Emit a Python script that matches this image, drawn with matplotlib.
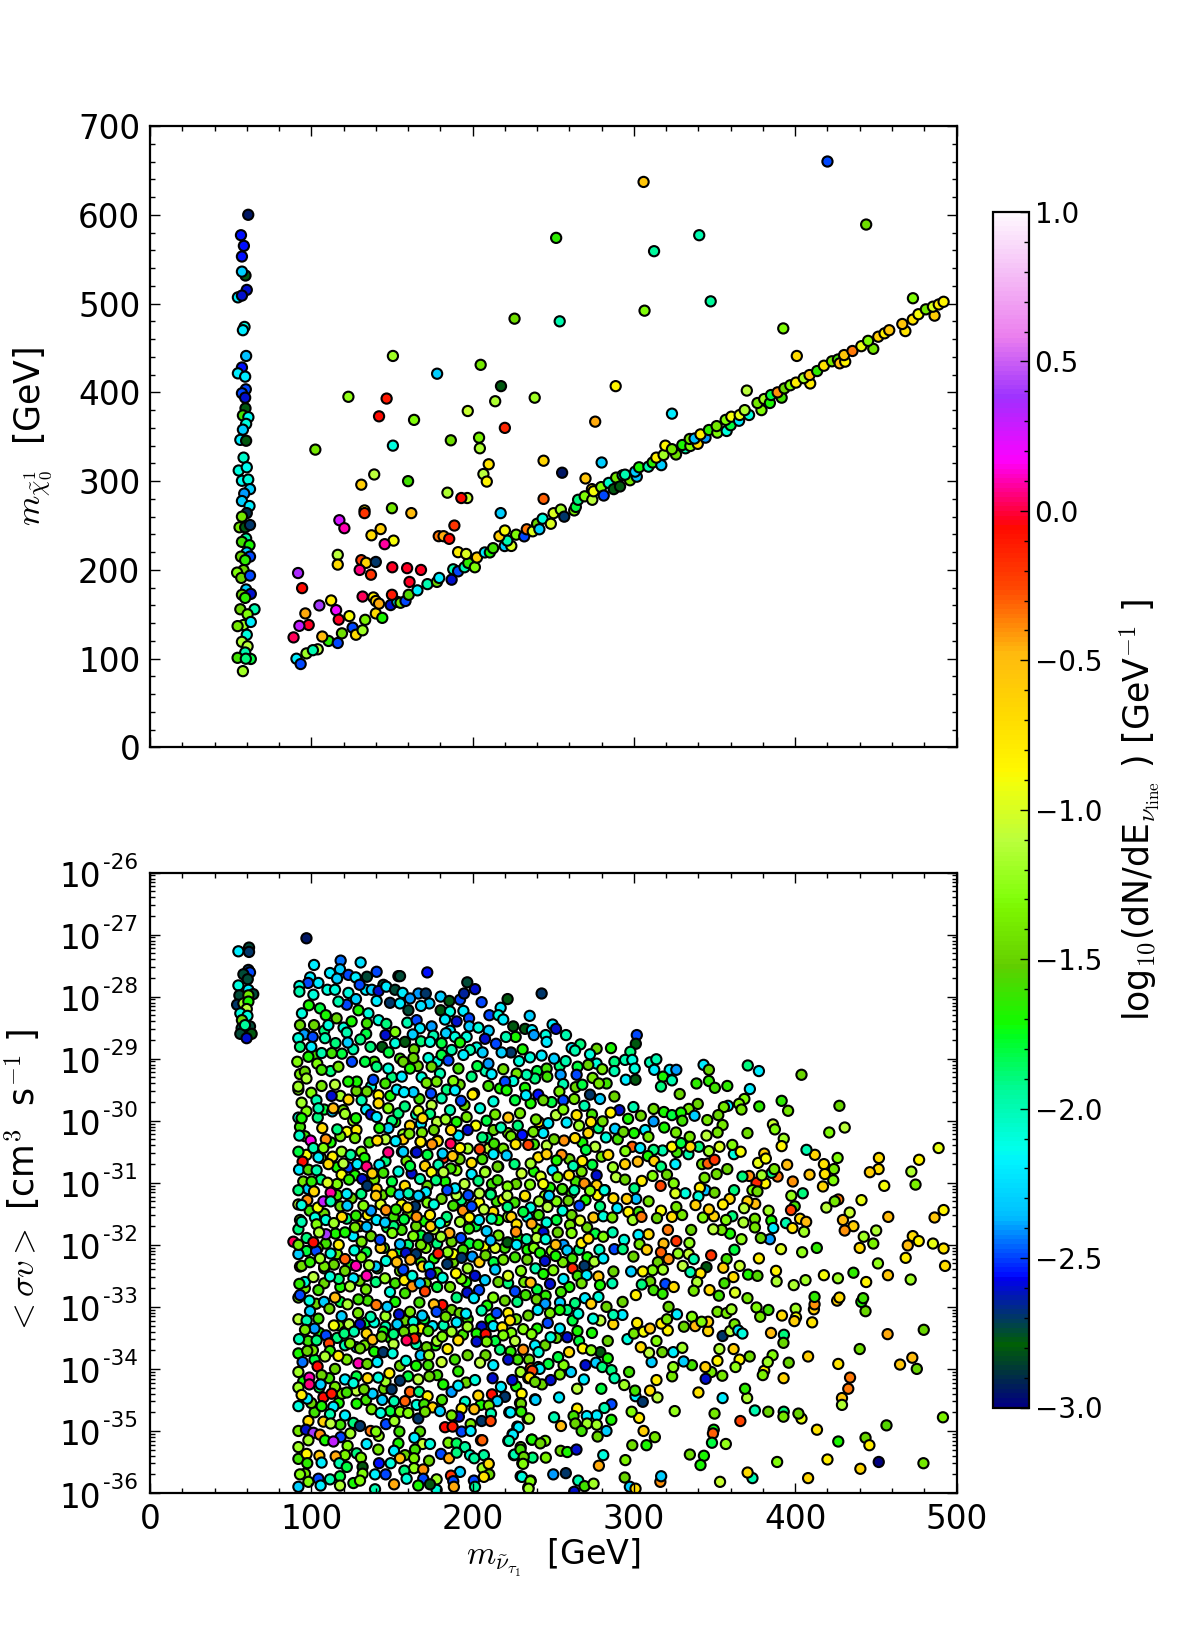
import numpy as np
import matplotlib
matplotlib.use("Agg")
import matplotlib.pyplot as plt
from matplotlib.ticker import MultipleLocator, NullFormatter, LogLocator

plt.rcParams["mathtext.fontset"] = "cm"

# top panel: (sneutrino mass, neutralino mass, log10 flux)
band = [(60.9,600,-2.95),(56.4,577,-2.55),(58.2,565,-2.55),(57,553,-2.55),(59.2,531.6,-2.8),(57,536,-2.3),(60,515.4,-2.6),(54.5,507,-2.2),(57,509,-2.6),(58.6,473.7,-2.1),(57.6,470,-2.2),
 (59.6,441,-2.35),(57,428,-2.55),(54.5,421.4,-2.2),(59,417.7,-2.2),(59.4,403.4,-2.5),(57,399,-2.5),(59,394,-2.6),(59.2,382,-2.8),(57.6,374,-1.6),(61,372,-2.15),(59.6,364.5,-2.1),(57.6,358,-2.3),
 (56,346.5,-2.2),(59.6,345.5,-2.8),(58,326.5,-2.05),(55,312,-2.1),(60,315.6,-2.15),(57,300.4,-2.15),(60.9,301.8,-2.1),(62,291,-2.3),(58.4,286,-2.4),(57,277.6,-2.3),(61.7,272,-2.2),(60,264,-2.9),
 (57,260,-1.4),(55.5,248,-1.4),(59,248,-2.8),(62,250.6,-2.7),(59.6,235.4,-1.95),(57,231.6,-1.6),(61.7,227.8,-1.7),(60,219.7,-2.3),(56.4,215,-1.5),(62,215,-2.5),(59,211,-1.65),(58,199.8,-1.5),
 (54,197,-1.3),(56.6,191,-1.5),(62,193.6,-2.5),(59.6,178,-2.3),(57,172,-1.5),(62.5,173,-2.6),(59,168.5,-1.65),(56,155.7,-1.5),(64.8,155.7,-2),(60.5,150,-1.3),(58,138,-1.2),(54.3,136.7,-1.4),
 (62.5,141.4,-2.2),(60,127,-2.1),(57,119,-1.15),(60.5,114,-1.1),(59,107,-2),(54.3,101,-1.6),(62.5,99.7,-1.8),(59.4,100,-1.9),(57.6,86,-1.2)]

diagonal = [(90.8,100,-2.2),(93.4,94,-2.5),(97,106,-1.2),(104,110.6,-1.1),(101,109.6,-2),(110.7,120,-1.65),(116.4,117.7,-2.5),(119,128.6,-1.45),(125.6,135,-2.5),(127.7,127,-0.7),(131.8,132,-1.2),
 (133.4,143.8,-1.35),(140,151,-0.7),(144,146,-1.7),(149.2,160.4,-2.6),(153.3,164,-2.2),(155.3,163,-1.4),(158.4,165,-2.5),(160.4,172,-1.55),(165.8,177,-2.2),(172,184,-2),(177.9,186.5,-1.5),(179.3,191,-2.2),
 (187,189,-2.6),(188,200.7,-2),(191,198.4,-2.5),(195,203,-2),(197.3,207.9,-1.65),(201.4,203,-1.3),(202.7,214,-0.6),(207.6,219.7,-2.2),(210.7,219.7,-1.7),(212.7,224.5,-1.6),(219.9,226.9,-2.3),(224,227,-1),
 (221.5,233,-2),(227,239.7,-1.3),(232,237.8,-2.5),(233.6,245.8,-0.35),(237.3,243.5,-1),(240,252,-1.5),(241.4,245.8,-2.3),(243.4,257.7,-2.1),(248.5,252,-1),(250.2,263.9,-1),(254.7,268,-1.2),(256.8,260,-2.7),
 (263,267,-1.4),(264,271,-1.8),(265.4,279,-1.9),(269.5,282.9,-1.3),(274.2,279,-1.1),(274,291,-0.7),(275,288.6,-0.9),(279.7,293.3,-1.3),(281.3,283.8,-2.5),(284.4,298,-2.05),(287.5,291,-2.8),(289,304,-1.4),
 (291.4,294,-2.8),(293,306.6,-2),(297.6,301,-1.4),(294.5,307.3,-2),(301.8,305,-2.35),(300.8,310.7,-2.3),(303.2,315.6,-1.7),(309,316.3,-2),(311.6,321,-1.65),(317,318,-2.3),(313.9,326.5,-0.8),(318.4,329.5,-1.2),
 (319.5,340,-0.85),(326.1,330,-1.45),(323.6,336,-1.4),(332,337,-2),(330,340.7,-1.7),(335,339.6,-1.3),(339.6,342,-0.7),(334.6,347.5,-1.4),(344.4,349,-2.4),(337.6,348,-2.35),(341.3,352.7,-0.8),(346.5,357.6,-1.65),
 (351.7,354.6,-1.3),(351.3,362,-1.4),(357.5,356.5,-2.1),(360,363,-1.8),(356.9,369,-1.3),(360.4,372.6,-0.9),(365.2,368,-2.2),(365.6,374.5,-0.95),(371.4,374.5,-2.1),(368.7,380,-1.15),(379.1,380,-1.3),(376.6,388,-1.4),
 (380.8,392.5,-1.2),(384.3,388,-1.7),(385,397,-1.8),(391.6,394,-1.6),(389.1,400,-0.4),(393.3,404.5,-1.5),(397,408,-1.3),(400.5,411,-0.8),(409.3,410,-0.8),(405.3,416,-1.2),(408.9,419.5,-0.55),(413.6,424,-1.65),
 (417.8,430,-0.75),(422.8,435,-1.4),(426.5,437,-1.6),(427.6,432.7,-0.5),(431,434.6,-0.85),(430.3,442,-0.55),(435.5,446.6,-0.35),(441,452,-0.95),(448.4,449,-1.4),(445.2,458,-1.3),(451.5,462.7,-0.6),(455.4,466.5,-0.8),
 (458.3,470,-0.55),(468.3,469,-0.75),(466.4,477,-0.55),(472.9,482,-0.75),(476.4,488,-0.9),(481,493.5,-1.4),(486.4,486.4,-0.6),(485.4,496.5,-1),(489,499,-0.8),(492,502,-0.85)]

scattered = [(150.6,441,-1.2),(251.8,574,-1.65),(226,483,-1.45),(254,480,-2),(205,431,-1.4),(178,421,-2.3),(217.6,407,-2.8),(288.7,407,-0.85),(214,390,-1.15),(238.5,394,-1.2),(123,395,-1.25),(146.7,393,-0.1),
 (142,373,-0.05),(163.7,369,-1.3),(197,379,-1.05),(220,360,-0.15),(276,367,-0.45),(186.5,346,-1.45),(204,349,-1.35),(204.5,337,-1.15),(150.6,340,-2.1),(102.5,335.5,-1.4),(210,319,-0.75),(244,323,-0.65),
 (280,321,-2.3),(255.5,309.5,-2.95),(139,307.5,-1.1),(160,300,-1.6),(131,296,-0.6),(206.7,308,-1.1),(208.8,299.5,-0.85),(270,303,-0.55),(184.4,287,-1.15),(196.7,281,-1.05),(193,281,-0.05),(244,280,-0.3),
 (133,267,-0.8),(133,264,-0.2),(150,269.5,-1.4),(162,264,-0.5),(217.4,264,-2.3),(117.4,256,0.25),(120.5,247,0.1),(188.7,250,-0.2),(143,246,-0.6),(137.3,239,-0.7),(151,233,-0.9),(145.5,229,0.08),(179,238,-0.35),
 (182,238,-0.45),(185.5,235,-0.05),(116.4,217,-1.1),(116.4,206,-0.7),(131,211,-0.25),(134,208,-0.65),(140,209,-2.7),(130,200,0.05),(137,194.6,-0.2),(150.2,203,-0.02),(159.4,202,-0.03),(168,200,-0.03),
 (160.9,186.5,-0.03),(191,220,-0.8),(196,218,-1),(91.8,196.5,0.35),(94.3,179.5,-0.05),(131.8,170,0.03),(112.3,165.6,-0.8),(105,160,0.4),(115.4,154.7,0.2),(96.3,151,-0.45),(123.6,148,-0.9),(117,144,-0.02),
 (98.4,138,-0.03),(92.6,137,0.3),(89,124,0.02),(106.8,125,-0.5),(138.5,169,-0.8),(140,165,-0.6),(142,162,-0.45),(150,172,-0.1),(216.6,238,-0.6),(220,244.4,-0.9),(306,637,-0.55),(420,660,-2.5),(444,589,-1.45),
 (312.5,559,-1.95),(340.5,577,-2),(306.6,492,-1.3),(347.6,502.5,-1.95),(392.6,472,-1.3),(401,441,-0.7),(323.6,376,-2.2),(370,402,-1.1),(473,506,-1.3)]

# bottom panel: (sneutrino mass, log10 <sigma v>, log10 flux)
sv_fill = [(96,-28.6,-2.3),(108,-28.55,-1.9),(120,-28.5,-2.1),(134,-28.6,-1.8),(152,-28.75,-2.1),(168,-28.72,-1.9),(186,-28.55,-2.2),(210,-28.55,-2.3),
 (93,-29.25,-1.4),(103,-28.95,-1.6),(112,-29.2,-1.9),(126,-28.85,-2),(139,-29.05,-1.6),(150,-29.3,-1.9),(166,-29.12,-1.5),(178,-29.05,-2.1),(192,-29.42,-1.5),(208,-29.2,-2),(217,-29.48,-1.7),(240,-29.2,-1.8),(254,-29.12,-1.9),
 (100,-29.55,-1.3),(118,-29.6,-1.2),(128,-29.52,-1.5),(137,-29.45,-2.1),(149,-29.6,-1.7),(167,-29.65,-1.6),(184,-29.5,-1.9),(195,-29.75,-1.5),(214,-29.9,-1.4),(236,-29.72,-1.7),(249,-29.7,-1.8),(263,-29.65,-1.4),(274,-29.9,-1.6),
 (97,-29.85,-1.3),(108,-29.82,-1.8),(126,-30.0,-1.2),(134,-29.82,-2.2),(152,-30.02,-1.7),(165,-29.9,-2),(178,-30.02,-1.1),(190,-30.02,-1.7),(202,-30.08,-0.9),(213,-30.15,-1.5),(228,-30.08,-1.9),(241,-30.02,-0.8),(266,-30.08,-1.2),(278,-30.12,-1.9),
 (96,-30.25,-1.6),(112,-30.35,-1.7),(122,-30.18,-0.9),(136,-30.35,-1.6),(157,-30.22,-1.2),(172,-30.55,-1.8),(197,-30.45,-1.2),(209,-30.28,-1.9),(219,-30.45,-1.4),(238,-30.38,-1.6),(246,-30.4,-1.1),(268,-30.35,-1.7),(276,-30.42,-1.1),(290,-30.3,-1.6),
 (106,-30.6,-1.2),(116,-30.75,-1.7),(131,-30.5,-1.3),(146,-30.65,-1.9),(159,-30.65,-1.4),(192,-30.62,-1.5),(206,-30.62,-1.6),(226,-30.7,-1.9),(238,-30.82,-1.7),(260,-30.62,-1.5),(268,-30.65,-0.8),(287,-30.75,-1.2),
 (95,-30.98,-1.4),(106,-30.95,-1.9),(116,-31.02,-1.3),(127,-30.88,-1.7),(139,-30.95,-1.4),(150,-30.98,-1.8),(158,-31.05,-0.7),(172,-31.05,-1.5),(183,-30.98,-1.7),(195,-31.02,-1.1),(212,-31.02,-1.6),(227,-31.02,-1.5),(248,-31.08,-1.7),(264,-30.98,-1.6),
 (99,-31.45,-1.6),(118,-31.38,-1.5),(131,-31.18,-1.9),(144,-31.2,-1.5),(172,-31.32,-1.3),(193,-31.28,-1.9),(204,-31.32,-0.9),(226,-31.32,-1.6),(241,-31.52,-1.6),(252,-31.3,-1.3),(270,-31.28,-1.7),
 (108,-31.5,-1.5),(122,-31.58,-1.9),(135,-31.52,-0.8),(151,-31.55,-1.6),(160,-31.5,-1.4),(170,-31.62,-1.7),(183,-31.62,-1.3),(202,-31.7,-1.8),(216,-31.6,-1.7),(222,-31.55,-1.2),(234,-31.55,-2.1),(252,-31.6,-1.8),(271,-31.72,-1.5),
 (109,-31.98,-1.6),(115,-31.82,-1.7),(126,-31.86,-2.2),(137,-31.86,-1.5),(147,-31.72,-1.8),(156,-31.76,-1.6),(168,-31.85,-1.8),(176,-31.75,-1.1),(187,-31.95,-1.5),(198,-31.98,-1.8),(216,-31.85,-1.4),(228,-31.88,-1.7),(240,-31.75,-1.3),(276,-31.82,-1.8),
 (97,-32.1,-1.8),(104,-32.05,-1.5),(116,-32.15,-1.4),(134,-32.12,-1.8),(145,-32.05,-1.6),(160,-32.0,-1.9),(171,-32.05,-1.3),(178,-31.98,-1.9),(194,-32.08,-1.6),(207,-32.03,-0.9),(220,-32.05,-1.6),(234,-32.08,-1.7),(249,-32.1,-1.2),(266,-32.08,-1.9),
 (108,-32.38,-1.9),(114,-32.32,-1.5),(124,-32.32,-1.7),(141,-32.38,-1.6),(155,-32.42,-1.5),(168,-32.28,-1.6),(176,-32.22,-1.7),(188,-32.28,-1.5),(197,-32.38,-1.2),(213,-32.28,-1.8),(230,-32.42,-1.3),(239,-32.38,-2),(256,-32.28,-1.4),(272,-32.32,-1.6),
 (96,-32.7,-1.4),(108,-32.62,-1.5),(118,-32.68,-1.7),(130,-32.58,-1.5),(140,-32.6,-1.9),(152,-32.62,-1.6),(171,-32.62,-1.5),(178,-32.68,-1.8),(186,-32.68,-1.4),(196,-32.6,-1.7),(216,-32.6,-1.5),(222,-32.62,-1.9),(232,-32.6,-1.4),(260,-32.68,-1.7),
 (103,-32.95,-1.5),(118,-32.92,-1.8),(135,-32.9,-1.6),(152,-32.92,-1.7),(167,-32.93,-1.6),(187,-33.05,-1.5),(209,-32.98,-1.7),(220,-32.9,-1.5),(240,-32.72,-1.8),(248,-33.1,-1.4),(262,-33.22,-1.8),(283,-33.0,-1.5),
 (105,-33.42,-1.7),(117,-33.3,-1.4),(134,-33.25,-1.8),(146,-33.32,-2),(158,-33.22,-1.5),(170,-33.2,-1.8),(197,-33.2,-1.6),(211,-33.2,-1.7),(227,-33.2,-1.4),(240,-33.35,-1.7),(252,-33.5,-1.5),(274,-33.42,-1.7),
 (98,-33.55,-1.6),(116,-33.5,-1.9),(133,-33.62,-1.4),(149,-33.5,-1.7),(165,-33.42,-1.6),(177,-33.62,-1.7),(194,-33.45,-1.6),(214,-33.55,-1.8),(224,-33.42,-1.3),(245,-33.62,-1.5),(266,-33.55,-1.8),
 (102,-33.85,-1.8),(122,-33.85,-1.4),(139,-33.72,-1.7),(155,-33.95,-1.5),(165,-33.95,-1.7),(189,-33.85,-1.6),(208,-33.78,-1.5),(228,-33.85,-1.6),(247,-33.92,-1.8),
 (95,-34.2,-1.7),(111,-34.15,-1.6),(128,-34.12,-1.8),(145,-34.32,-1.5),(160,-34.12,-1.8),(178,-34.1,-1.6),(196,-34.22,-1.5),(227,-34.28,-1.7),(243,-34.25,-1.5),
 (102,-34.7,-1.6),(117,-34.55,-1.7),(134,-34.5,-1.6),(149,-34.68,-1.8),(181,-34.5,-1.6),(205,-34.58,-1.7)]

sv_under = [(93,-30.1,-1.6),(97,-30.55,-0.9),(104,-29.95,-1.9),(109,-30.3,-0.4),(113,-29.85,-2.3),(118,-30.25,-1.4),(123,-30.75,-2.5),(128,-30.15,-0.8),(133,-30.6,-1.7),(137,-29.9,-2.6),(146,-30.3,-1.1),(150,-30.0,-1.9),
 (157,-30.3,-0.6),(168,-30.05,-2.2),(176,-30.15,-1.5),(182,-30.6,-0.2),(190,-30.8,-1.3),(197,-30.15,-2.6),(210,-30.45,-1.1),(222,-30.2,-1.5),(93,-31.6,-1.4),(98,-31.1,-2.3),(104,-31.4,-0.9),(109,-31.6,-2.1),(116,-31.2,-1.6),
 (119,-31.55,-0.7),(125,-31.25,-1.5),(130,-31.7,-0.5),(137,-31.45,-2.4),(143,-31.35,-1.0),(151,-31.7,-1.9),(156,-31.35,-0.9),(165,-31.7,-1.5),(171,-31.15,-2.2),(174,-31.7,-0.6),(184,-31.55,-1.9),(190,-31.2,-1.1),(194,-31.45,-0.4),
 (204,-31.6,-2.2),(215,-31.3,-1.6),(224,-31.55,-0.6),(236,-31.4,-2.1),(93,-32.35,-0.7),(96,-32.6,-2.1),(103,-32.1,-2.5),(108,-32.35,-1.4),(117,-32.0,-0.8),(117,-32.55,-1.9),(131,-32.2,-1.3),(140,-32.35,-2.3),(143,-32.05,-0.6),
 (155,-32.1,-1.8),(157,-32.4,-2.5),(168,-32.0,-1.4),(169,-32.35,-0.7),(178,-32.45,-1.6),(188,-32.15,-0.9),(193,-32.55,-1.3),(214,-32.05,-1.0),(214,-32.4,-2.3),(222,-32.5,-1.0),(238,-32.05,-1.3),(92,-33.2,-1.1),(102,-33.35,-2.4),
 (114,-33.3,-0.9),(129,-33.1,-1.4),(139,-33.25,-2.1),(146,-33.15,-1.2),(168,-33.35,-0.8),(182,-33.3,-2.0),(192,-33.1,-1.5),(101,-33.7,-1.4),(121,-33.4,-0.4),(128,-33.65,-2.3),(151,-33.6,-1.1),(165,-33.6,-2.0),(178,-33.55,-1.2),
 (105,-34.3,-1.8),(119,-34.4,-1.4),(128,-34.35,-1.1),(92,-34.6,-2.1),(100,-34.55,-1.5),(118,-34.9,-1.6),(138,-34.4,-2.3),(146,-34.2,-1.2),(92,-35.0,-1.4),(92,-29.5,-1.3),(92,-29.95,-2.1),(92,-30.5,-1.8),(92,-31.35,-1.1),(92,-31.75,-1.9),
 (92,-32.15,-2.3),(92,-32.85,-1.5),(92,-33.75,-1.7),(92,-34.3,-1.2),(92,-35.45,-1.6),(92,-35.9,-2.3)]

sv_cluster = [(54.8,-27.27,-2.2),(61.4,-27.21,-2.75),(61.4,-27.28,-2.7),(61,-27.57,-2.7),(62,-27.61,-2.5),(57.9,-27.64,-2.75),(60.6,-27.72,-2.75),(54.8,-27.82,-2.1),(61,-27.89,-2.2),(55.4,-27.98,-2.75),(64,-27.96,-2.75),(61,-27.98,-1.4),
 (54,-28.13,-2.7),(57.9,-28.11,-1.2),(61,-28.08,-1.7),(60,-28.2,-1.1),(56,-28.27,-2.1),(60.4,-28.31,-2.1),(57,-28.38,-1.5),(56.8,-28.51,-2.75),(62,-28.48,-2.75),(59.5,-28.62,-2.75),(56,-28.6,-2.75),(63,-28.6,-2.8),(59.9,-28.67,-2.6),(58.9,-28.46,-1.95)]

sv_upper_left = [(97,-27.06,-2.95),(101.7,-27.49,-2.2),(118.2,-27.42,-2.45),(130.6,-27.45,-2.25),(117.8,-27.56,-2.3),(140.5,-27.6,-2.5),(154,-27.67,-2.8),(111.6,-27.62,-2.2),(99.3,-27.69,-2.2),(123,-27.65,-2.5),(127.5,-27.69,-2.2),
 (134.5,-27.68,-2.75),(116,-27.71,-2.3),(98,-27.78,-2.5),(104.4,-27.78,-2.2),(92.6,-27.83,-2.1),(92.6,-27.92,-2),(110,-27.89,-2.1),(114.7,-27.89,-2.1),(133.8,-27.89,-2.2),(130,-27.81,-2.5),(144.7,-27.81,-2.75),(101.3,-27.97,-2.1),
 (123,-27.94,-2.1),(137.5,-27.89,-2.3),(141.7,-27.91,-2.6),(146.5,-27.84,-2.2),(151.9,-27.89,-2.75),(156.6,-27.94,-2.2),(127.7,-28.04,-2.3),(122,-28.13,-2.5),(116.8,-28.08,-2),(140.5,-28.07,-2.2),(148.8,-28.1,-2.7),(155,-28.11,-2.2),
 (98.5,-28.14,-1.7),(105.4,-28.19,-1.8),(94.2,-28.27,-2.1),(109,-28.3,-1.7),(129.2,-28.22,-1.7),(135.4,-28.27,-2.1),(141.7,-28.38,-2.1),(115.7,-28.35,-1.5),(93,-28.46,-1.5),(101.7,-28.46,-1.5),(110.6,-28.46,-2.1),(125,-28.4,-1.7),
 (134.5,-28.43,-1.6),(146.5,-28.44,-1.9),(95.5,-28.61,-2.4),(100.9,-28.65,-2.5),(108.5,-28.67,-2),(122,-28.58,-2),(146,-28.62,-2.6),(152,-28.57,-1.3),(130.4,-28.69,-1.9),(91.9,-28.67,-2.1),(115,-28.75,-1.9),(93,-28.81,-1.9),(100,-28.81,-2.2),
 (106.4,-28.91,-2),(122.6,-28.74,-2.3),(136.7,-28.81,-1.9),(143.9,-28.81,-2.8),(148,-28.9,-1.8),(98.2,-28.97,-1.7),(125.2,-29.05,-2.5),(112.7,-28.91,-1.6),(91.3,-29.05,-1.3),(103.7,-29.08,-1.3),(133.3,-29.05,-1.8),(119,-28.92,-1.8),
 (155,-29,-1.6),(140.5,-29.13,-1.9),(147.7,-29.16,-2.1),(96,-29.21,-1.5),(106.4,-29.18,-1.6),(116.8,-29.13,-1.4),(128.2,-29.37,-1.7),(122.9,-29.37,-1.7),(138.4,-29.34,-2.5),(156.1,-29.29,-2.2),(97,-29.32,-1.15),(91.9,-29.45,-1.2),
 (106.4,-29.44,-1.4),(114.7,-29.42,-1.1),(145.9,-29.4,-1.6),(134.5,-29.53,-1.5),(94,-29.71,-1.2),(112.6,-29.6,-2.6),(103.2,-29.67,-2),(123,-29.66,-0.65),(131.2,-29.67,-2),(141.7,-29.59,-0.85),(153,-29.5,-2.2),(119.8,-29.83,-1.5),
 (141.7,-29.72,-0.7),(147.7,-29.8,-1.3),(113.6,-29.8,-0.5),(94,-29.96,-1.7),(140.5,-29.94,-2.2),(127.7,-29.96,-1.7)]

sv_left_mid = [(104.4,-29.8,-2),(120.9,-29.89,-1.2),(154,-29.88,-1.9),(161.2,-30.08,-0.65),(147.8,-30.12,-2.3),(142.2,-30.12,-1.7),(106.8,-30.12,-0.7),(116.1,-30.14,-1.9),(92.6,-30.24,-2.05),(127.1,-30.28,-1.4),(99.6,-30.32,0.15),
 (140.9,-30.32,-0.7),(152.3,-30.33,-2.2),(167.8,-30.34,-0.9),(178.3,-30.32,-0.7),(101.3,-30.44,-2),(107.5,-30.44,-1.3),(118.8,-30.5,-1.2),(147.7,-30.51,0.05),(156.2,-30.5,-2.3),(164.9,-30.51,-2.6),(104.4,-30.59,-2.2),(113.2,-30.58,-0.8),
 (124.4,-30.55,-1.95),(94.6,-30.66,-0.05),(110.6,-30.7,-0.7),(119.9,-30.69,-1.1),(128.5,-30.7,-2.2),(142.2,-30.71,-2.2),(134.3,-30.74,0.05),(92.4,-30.79,-2.2),(98.2,-30.79,-1.55),(103.3,-30.8,-2),(154,-30.82,-2.1),(137.8,-30.85,-0.6),
 (144.6,-30.84,-1.6),(118.8,-30.87,-0.9),(162.2,-30.85,-2.6),(215.9,-30.74,-1.9),(208,-30.82,-1.8),(131.6,-30.94,-2.6),(110.1,-31,-1),(123.4,-30.95,-1.65),(100.2,-30.98,-1.65),(134.7,-31.05,-2.7),(92,-31.12,-1.9),(101.7,-31.14,-0.65),
 (112,-31.16,0.08),(140.5,-31.1,-0.6),(149.4,-31.14,-1.65),(197.3,-31.2,-2.5),(140.1,-31.21,-0.55),(97.5,-31.28,-0.4),(107.5,-31.3,0.3),(112,-31.3,-2),(122,-31.18,-2.2),(154.6,-31.19,-2.3),(161.2,-31.19,-1.9),(167,-31.22,-2),(180.8,-31.26,-1.5),
 (211.2,-31.17,-2.1),(232.5,-31.22,-0.75),(219,-31.27,-0.9),(94,-31.36,-2.1),(122.3,-31.37,-2.3),(132.3,-31.37,-1.3),(164.3,-31.38,-2.7),(176,-31.35,-2.1),(188,-31.37,-1.6),(199.4,-31.38,-2.5),(159.7,-31.4,-0.7),(146.3,-31.44,-0.4),
 (152.5,-31.43,-1.65),(221.7,-31.39,-1.9),(231.4,-31.47,-1.8),(212.8,-31.47,-0.7),(207,-31.43,-1.1),(165.3,-31.55,-0.4),(102.3,-31.56,-2.1),(173.6,-31.52,-0.8),(127.7,-31.53,-1.65),(211.8,-31.58,-2),(198,-31.56,-0.85),(179.8,-31.65,-2.1),
 (140.5,-31.6,-2.2),(145.7,-31.64,-2.3),(157.5,-31.59,-1.8),(94,-31.63,-2),(114,-31.65,-1.2),(192.2,-31.63,-1.2),(227.3,-31.67,-0.75),(134.3,-31.71,-2.35),(127.1,-31.72,-1.4),(103.3,-31.67,-1.3),(197.7,-31.74,-1.65),(208.7,-31.78,-2.3),
 (236.6,-31.66,-0.45),(185.6,-31.81,-0.45),(109.1,-31.83,0.4),(104.8,-31.8,-1.15),(180.4,-31.87,-1.2),(226.9,-31.79,-0.4),(97.1,-31.89,-1.9),(120.9,-31.8,-1.7),(163.2,-31.86,-1.3),(172.5,-31.89,-2.7),(155,-31.99,-2.35),(192.8,-31.89,-2.5),
 (88.9,-31.95,0.03),(101.3,-31.96,-0.05),(92,-32,-1.4),(131.2,-31.95,-1.4),(150.2,-31.81,-1.3),(142.6,-31.92,-2.5),(211.2,-31.93,-2.35),(221.7,-31.96,-2.8),(233.5,-31.91,-2),(203.5,-32,-1.65),(227.3,-32,-2.2),(112,-32.14,-2.1),(120.9,-32.23,-0.3),
 (126.7,-32.09,-2.1),(94,-32.34,-1.45),(99.2,-32.28,-1.65),(105.4,-32.22,-1.2),(135.8,-32.33,-1.2),(150.2,-32.16,-0.7),(158.7,-32.13,-2.6),(164.9,-32.15,-2.7),(153,-32.28,-0.5),(161.4,-32.24,-0.45),(173,-32.35,-2.1),(184.5,-32.12,-1.25),
 (184.3,-32.31,-2.7),(178.7,-32.14,-0.1),(193.2,-32.21,-2.7),(199.8,-32.19,-2.4),(204.2,-32.28,-0.6),(208,-32.17,-1.5),(219,-32.24,-1.4),(226.3,-32.2,-1.6),(233.9,-32.24,-1.5),(127.7,-32.34,0.1),(146.3,-32.26,-2.1),(111.6,-32.51,-2.1),
 (101.3,-32.52,-1.1),(92.6,-32.63,-1.65),(104.4,-32.73,-1.6),(120.9,-32.42,-1.5),(126.1,-32.54,-2.2),(134.3,-32.5,0.1),(145.7,-32.54,-1.25),(157.7,-32.57,-0.8),(162.6,-32.5,-2.1),(162.6,-32.67,-0.4),(167.4,-32.62,-2.35),(174,-32.47,-2.6),
 (181.4,-32.53,-2.1),(189.7,-32.46,-0.85),(201.5,-32.5,-2.6),(207.7,-32.57,-2.3),(236,-32.61,-0.5),(124,-32.67,-1.15),(133.9,-32.72,-1.4),(148.8,-32.76,-2.1),(158.1,-32.78,-1.6),(170.5,-32.75,-0.25),(196.7,-32.77,-2.6),(204,-32.73,-2.5),
 (212.8,-32.85,-1.3),(226.3,-32.75,-2.5),(114.7,-32.85,-0.5),(93,-32.81,-2.5)]

sv_left_low = [(98.8,-32.9,-2.1),(107.9,-32.92,-2.3),(129.2,-32.88,-1.6),(140.3,-32.97,-0.35),(147.1,-33,-2.3),(181.2,-32.97,-0.05),(176,-32.96,-0.5),(190.1,-32.85,-1.9),(200.8,-32.86,-2.2),(232.9,-32.81,-1.6),(227.7,-32.92,-1.9),
 (99.2,-33.07,-2.3),(122.5,-32.96,-1.15),(111.2,-33.03,-1.5),(154.4,-33.12,-2.6),(161.2,-33.08,-1.4),(168.8,-33.14,-2.3),(177.7,-33.08,-2.5),(183.3,-33.16,-1.45),(195.9,-33.11,-2.2),(205.6,-33.06,-2),(214.9,-33.1,-2.5),(222.1,-33.1,-0.8),
 (234.5,-33.14,-1.5),(104.4,-33.19,-1.6),(97.1,-33.22,-2),(118.8,-33.15,-2.3),(136.8,-33.16,-2),(153.3,-33.28,-2.3),(163.2,-33.24,-2.1),(175.2,-33.31,-2.2),(190.1,-33.25,-2.2),(205.6,-33.32,-2.6),(212.8,-33.31,-2.2),(223.2,-33.22,-0.7),
 (123.4,-33.28,-1.1),(130.2,-33.28,-2.6),(196.9,-33.32,-1.2),(218.4,-33.33,-0.75),(96.1,-33.37,-1.4),(134.3,-33.43,-0.65),(163.2,-33.37,-1.3),(109.1,-33.46,-2.5),(120.5,-33.43,-1.9),(126.5,-33.4,-2),(144.6,-33.4,-1.75),(151,-33.44,-1.9),
 (157.5,-33.4,-1.5),(163.9,-33.51,-0.15),(159.1,-33.54,0.03),(172.5,-33.39,-1.6),(181.2,-33.48,-1.3),(187,-33.4,-1.2),(202.5,-33.43,-1.7),(208.1,-33.44,-0.05),(219,-33.46,-1.3),(231.4,-33.36,-1.3),(236.6,-33.44,-1.3),(92.4,-33.52,-2),
 (103.3,-33.54,-1.9),(111,-33.59,-0.25),(120.9,-33.62,-2),(138,-33.53,-0.5),(143.6,-33.48,-1.5),(171.5,-33.65,-1.5),(191.1,-33.54,-0.7),(208.7,-33.56,-1.35),(226.3,-33.55,-1.1),(238.7,-33.62,-2.2),(202.5,-33.56,-2.6),(97.5,-33.71,-1.5),
 (111.6,-33.71,-1.65),(124,-33.59,-1.35),(130.2,-33.67,-1.5),(116.8,-33.79,-0.8),(94.6,-33.89,-2.45),(108.5,-33.8,-1.15),(144.6,-33.73,-2.7),(150.4,-33.75,-2.1),(167.8,-33.78,-2.3),(173,-33.78,-1.2),(184.5,-33.68,-0.8),(196.9,-33.78,-1.5),
 (217,-33.69,-1.9),(231.4,-33.69,-0.4),(223.6,-33.72,-1.65),(235,-33.85,-1.5),(222.1,-33.85,-2.6),(92,-34.05,-1.2),(103.9,-33.96,-0.05),(114.7,-34,-1.5),(129.2,-33.91,0.1),(134.7,-33.92,-1.5),(140.9,-33.89,-2.2),(158.7,-33.87,-2.1),
 (172.5,-33.94,-1.6),(180.8,-33.89,-1.05),(204.6,-33.9,-1.1),(191.1,-34.04,-1.65),(212.8,-33.94,-2.2),(236,-33.99,-0.3),(240.7,-33.97,-2.1),(229.8,-34.05,-1.2),(106.4,-34.1,-1.5),(120.9,-34.17,-2.2),(134.9,-34.15,-0.65),(141.5,-34.14,-2.1),
 (148.4,-34.07,-0.8),(155,-34.19,-2.7),(166.3,-34.17,-1.1),(173.2,-34.12,-1.5),(212.4,-34.15,-2.6),(224.6,-34.18,-2.6),(234.5,-34.15,-0.7),(98.8,-34.14,0.1),(98.8,-34.25,0.05),(105.8,-34.25,-2.3),(114.7,-34.29,-1.4),(126.1,-34.23,-2.1),
 (132.7,-34.33,-1.5),(149.8,-34.33,-2.7),(181.8,-34.25,-1.7),(187,-34.37,-2.4),(191.1,-34.27,-2.2),(201.5,-34.18,-2.1),(217.6,-34.29,-2.2),(107.5,-34.46,-0.05),(122,-34.38,-1.6),(97.5,-34.48,-2.2),(94,-34.42,-0.8),(112.6,-34.4,-0.1),
 (161.2,-34.37,-0.3),(166.8,-34.37,-1.9),(172.1,-34.44,-0.8),(144,-34.5,-2.3),(151.3,-34.52,-2),(158.1,-34.52,-0.3),(203.5,-34.43,-0.65),(212,-34.41,-0.05),(220.1,-34.45,-2.7),(215.3,-34.52,-2.3),(230.4,-34.4,-0.85),(238.7,-34.49,-2.3),
 (195.3,-34.53,-2.05),(106.4,-34.6,-1.7),(113.7,-34.61,-2.2),(128.1,-34.56,-1.7),(137.4,-34.65,-1.4),(143,-34.71,-2.1),(155,-34.69,-1.3),(165.3,-34.58,-2.1),(170,-34.57,-1.6),(175.2,-34.62,-0.65),(179.8,-34.68,-2.3),(201,-34.65,-0.5),
 (210.1,-34.59,-1.4),(229.4,-34.55,-1.5),(193.2,-34.64,-0.8),(111.6,-34.73,-2),(120.9,-34.75,-2.2),(98.2,-34.84,-0.7),(107.5,-34.85,-0.6),(112,-34.88,-1.1),(126.1,-34.87,-1.9),(130.2,-34.92,-2.7),(146.3,-34.89,-2.5),(151.5,-34.84,-1.2),
 (160.1,-34.71,-1.3),(166.3,-34.8,-2.7),(170.5,-34.69,-1.45),(191.5,-34.77,-2.6),(187,-34.75,-1.4),(211.4,-34.72,-2),(205.6,-34.84,-2.7),(211.2,-34.84,-0.25),(222.7,-34.7,-2.2),(229.8,-34.67,-1.6),(234.1,-34.8,-1.3),(96.7,-34.98,-2.6),
 (182.9,-34.94,-0.05),(187.6,-34.93,-0.1),(193.2,-35.01,-2.5),(198.8,-34.89,-1.4),(198.8,-35,-2.2),(227.7,-34.93,-2.2),(136.8,-35,-0.35),(141.8,-35.08,-1.2),(140.1,-35.01,-1.3),(154.6,-35.01,-1.6),(167.4,-35.01,-1.55),(101.3,-35.03,0.4),
 (105.4,-35.06,-0.4),(98.2,-35.15,-1.2),(108.5,-35.15,-1.7),(118.2,-35.1,-2.5),(124.2,-35.04,-1.2),(163.9,-35.11,-2.2),(224.8,-35.05,-2.05),(236.6,-35.14,-1.7),(205.2,-35.15,-0.4),(222.1,-35.16,-2),(92,-35.26,-1.2),(113.7,-35.17,0.3),
 (122.5,-35.24,-1.3),(134.3,-35.21,-2.2),(141.5,-35.3,-1.4),(154,-35.2,-1.7),(169,-35.21,-1.05),(173.6,-35.21,-2.1),(185,-35.19,-1.35),(190.1,-35.2,-1.85),(195.3,-35.26,-1.95),(229.8,-35.26,-1.35),(97.1,-35.37,-0.85),(105,-35.4,-0.55),
 (120.9,-35.39,-1.35),(115.1,-35.41,-0.45),(128.1,-35.36,-1.9),(151.3,-35.32,-2.2),(164.3,-35.3,-1.6),(158.1,-35.39,-1.5),(180.4,-35.37,-2.5),(185.4,-35.44,-0.45),(190.1,-35.35,-1.9),(198.4,-35.39,-2.05),(207,-35.39,-1.95),(225.6,-35.39,-2.05),
 (231.4,-35.42,-1.4),(237.2,-35.43,-1.9),(97.5,-35.52,-1.65),(106.4,-35.51,-2.2),(117.4,-35.52,-2),(130.8,-35.43,-1.35),(142,-35.52,-2.55),(149.2,-35.52,-2.1),(155,-35.44,-0.5),(163.7,-35.44,-1.35),(173,-35.48,-1.5),(201,-35.44,-1.95),
 (209.7,-35.53,-0.7),(230.8,-35.52,-1.4),(96.1,-35.69,-1.4),(93,-35.7,-1.3),(122,-35.58,-1.8),(131.8,-35.58,-2.8),(163.7,-35.6,-1.25),(169.4,-35.62,-0.4),(157.7,-35.64,-1.9),(139.5,-35.7,-2.2),(146.1,-35.7,-2.5),(192.2,-35.66,-2.3),
 (186.6,-35.72,-0.2),(206.2,-35.6,-1.2),(210.3,-35.7,-1.5),(207,-35.74,-0.75),(229.8,-35.73,-2.05),(131.8,-35.69,-1.3),(98.2,-35.82,-1.3),(104.4,-35.77,-2.5),(111.6,-35.78,-2),(117.8,-35.73,-1.8),(126.1,-35.84,-1.7),(130.2,-35.8,-1.3),
 (151.3,-35.86,-0.45),(159.1,-35.77,-2.1),(169.4,-35.77,-2.5),(177.7,-35.78,-1.2),(200.8,-35.8,-2.5),(188,-35.81,-2.5),(236,-35.8,-1.2),(105.8,-35.88,-2.2),(117.8,-35.88,-1.15),(139.5,-35.94,-2),(166.3,-35.88,-1.7),(188.4,-35.9,-0.45),
 (201.5,-35.9,-1.95),(177.7,-35.95,-2.1),(234.5,-35.91,-1.4),(173.6,-35.86,-2.8)]

sv_upper_mid = [(171.9,-27.61,-2.55),(196.7,-27.77,-2.75),(201.5,-27.88,-2.6),(242.8,-27.95,-2.7),(205.6,-28.09,-2.5),(221.7,-28.04,-2.8),(155,-27.67,-2.75),(166.4,-27.95,-2.4),(171,-27.95,-2.7),(180.2,-28,-2.3),(185.6,-28.07,-2.8),(192.2,-28.05,-2.5),
 (194.7,-27.95,-2.65),(173.2,-28.11,-2.3),(168,-28.15,-2.25),(161.2,-28.03,-2.4),(160.2,-28.22,-2.75),(180.2,-28.22,-2.8),(186,-28.24,-2.1),(194.3,-28.23,-2.2),(217.4,-28.18,-2.2),(210.4,-28.3,-2.5),(235.4,-28.31,-2.3),(216,-28.3,-2.1),(219,-28.37,-2.2),
 (182.9,-28.37,-2.2),(190.1,-28.4,-2.6),(197.8,-28.35,-2.5),(159.5,-28.42,-2),(165.3,-28.38,-2.5),(249.6,-28.45,-2.2),(251.7,-28.52,-2.6),(225.2,-28.48,-2.8),(232.5,-28.52,-2.8),(236.8,-28.54,-2.2),(198,-28.48,-2.3),(203.6,-28.5,-2.1),(174.6,-28.48,-2.4),
 (167.4,-28.51,-2.2),(257.9,-28.62,-2),(245.3,-28.62,-2.1),(238,-28.62,-2.4),(226.7,-28.65,-1.7),(220.7,-28.65,-2),(207.7,-28.68,-2.6),(196.3,-28.65,-2.1),(183.5,-28.59,-2.3),(189.1,-28.65,-2.1),(175.7,-28.63,-2),(162.9,-28.61,-2.3),(158.1,-28.73,-2.8),
 (163.7,-28.85,-1.5),(173.6,-28.73,-2.1),(180.8,-28.75,-1.8),(192.2,-28.74,-1.7),(202.5,-28.82,-2.1),(214.5,-28.76,-2.5),(245.9,-28.73,-2.2),(266.8,-28.77,-1.9),(261.4,-28.83,-2.2),(276.9,-28.84,-1.5),(285.8,-28.83,-1.7),(231,-28.85,-1.7),(223.8,-28.9,-2.7),
 (218,-28.9,-2.3),(206.2,-28.9,-2.3),(198.4,-28.86,-2),(187,-28.86,-2),(180.8,-28.94,-1.8),(172.6,-28.99,-2.1),(185,-29.03,-2.5),(194.3,-28.94,-2.2),(163.3,-28.99,-1.5),(157,-29.05,-1.5),(263.5,-28.87,-2),(272.8,-28.93,-2.1),(235.6,-28.98,-2.1),(242.8,-28.95,-2.2),
 (250.5,-29,-2.3),(257.7,-29.04,-2),(287.9,-29.05,-1.9),(276.9,-29.08,-2.1),(271.7,-29.1,-1.5),(265.1,-29.13,-1.8),(280.4,-29.17,-1.4),(287.9,-29.2,-2),(228.8,-29.04,-2.1),(219,-29.17,-1.45),(209.8,-29.08,-2.4),(202.9,-29.12,-1.8),(191.2,-29.16,-1.6),(174.6,-29.13,-1.5),
 (161.2,-29.16,-1.7),(245.9,-29.16,-1.6),(254.6,-29.26,-2.4),(246.3,-29.29,-1.6),(238.7,-29.32,-1.9),(233.5,-29.26,-2),(227.3,-29.24,-1.4),(211.8,-29.25,-2.2),(199.4,-29.29,-1.9),(188,-29.36,-1.3),(179.8,-29.24,-2),(168.4,-29.3,-2.1),(264.5,-29.26,-2.5),(274.4,-29.31,-1.4),
 (283.1,-29.4,-1.6),(278.3,-29.4,-1.4),(256.2,-29.41,-2),(263.9,-29.46,-1.5),(268,-29.42,-1.8),(232.5,-29.47,-1.7),(225.2,-29.36,-2.1),(220.1,-29.37,-2.5),(209.8,-29.44,-1.6),(171.5,-29.39,-1.4),(177.7,-29.37,-1.4),(163.3,-29.54,-2.3),(157.5,-29.54,-2.2),(174.2,-29.56,-2.5),
 (189.1,-29.51,-2.2),(200.9,-29.56,-2.2),(200,-29.58,-0.8),(221.1,-29.51,-1.7),(240.7,-29.58,-2.55),(253.8,-29.53,-1.35),(272.8,-29.58,-2.7),(279,-29.65,-2.3),(287.9,-29.61,-1.5),(291,-29.83,-2.6),(285.6,-29.87,-0.85),(269.3,-29.76,-2),(256.2,-29.67,-2.5),(243.8,-29.67,-1.5),
 (233.1,-29.59,-2.2),(226.3,-29.67,-1.8),(212.9,-29.69,-2.1),(204.6,-29.8,-2.1),(192.8,-29.68,-2.5),(180.8,-29.64,-2),(174.6,-29.75,-1.1),(186,-29.83,-2),(166.4,-29.84,-1),(158,-29.77,-1.9),(173.6,-29.89,-1.9),(169,-29.96,-0.7),(183.3,-29.98,-1.2),
 (196.3,-29.94,-1.4),(208.7,-30,-1.8),(222.1,-29.95,-0.55),(229.4,-29.88,-1.4),(239.3,-29.98,-1.4),(251.7,-29.91,-1.1),(264.5,-29.91,-0.75),(256.2,-29.82,-1.3),(246.9,-30.04,-2.2),(258.3,-30.03,-2.2),(273.4,-30.02,-0.75),(280.6,-30.01,-1.45),(288.3,-30.13,-2.3),(282.7,-30.27,-2.1),
 (271.7,-30.2,-0.65),(263.5,-30.28,-0.7),(243.8,-30.2,-2.2),(237.6,-30.18,-1.4),(223.8,-30.25,-1.4),(234.5,-30.39,-0.25),(256.7,-30.32,-0.4),(250.5,-30.3,-1.5),(230.8,-30.23,-2.55),(217.6,-30.11,-2),(206,-30.27,-1.9),(191.2,-30.24,-2.2),(186.6,-30.15,-0.7),(178.3,-30.33,-0.7),
 (168.6,-30.19,-1.4),(160.8,-30.21,-1.4),(167.8,-30.34,-0.8),(186.4,-30.37,0.03),(174.8,-30.38,-0.4),(213.3,-30.37,-1.6),(226.7,-30.38,-0.75),(204.4,-30.46,-0.25),(192.2,-30.44,-0.85),(165.3,-30.51,-2.6),(157,-30.5,-2.3),(181.4,-30.53,-2.3),(187.6,-30.57,-0.55),(170.5,-30.73,-0.6),
 (174.6,-30.83,-0.9),(199.4,-30.68,-0.7),(221.1,-30.56,-2.3),(212.9,-30.54,-2.2),(240.7,-30.59,-0.75),(245.9,-30.54,-0.6),(255.2,-30.55,-0.4),(252.1,-30.64,-1.7),(236,-30.69,-1.2),(270.3,-30.47,-1.8),(280,-30.58,-1.4),(284.1,-30.55,-0.7),(274.2,-30.71,-1.8),(267.6,-30.82,-1.4),
 (276.9,-30.88,-2.6),(288.9,-30.91,-1.1),(262.4,-30.73,-2),(259.8,-30.88,-0.75),(249.6,-30.8,-2.2),(242.2,-30.9,-1),(230.4,-30.85,-1.05),(215.5,-30.74,-1.5),(207.7,-30.83,-1.2),(199.4,-30.86,-2.2),(186.4,-30.77,-1.6),(178.8,-30.71,-2),(161.2,-30.73,-1.8),(181.9,-30.83,-1.1),
 (189.1,-31.09,-2.2),(177.3,-30.96,-1.9),(167.4,-30.94,-2),(203.6,-30.97,-1.9),(215.5,-30.96,-1.6),(235.6,-31.03,-1.3),(221.7,-31.06,-1.3),(243.8,-31.02,-0.9),(252.7,-30.91,-1.35),(255.6,-31.11,-1.2),(269.7,-31.02,-0.25),(276.9,-31.04,-0.6),(282,-31.12,-2.2),(160.2,-31.17,-2),
 (166.4,-31.21,-2.3),(184.3,-31.12,-2.5),(204.2,-31.17,-1.1),(211.2,-31.19,-1.9),(221.5,-31.21,-1.1),(232.5,-31.21,-0.75),(244.9,-31.21,-1.2),(261.4,-31.17,-1.6),(277.9,-31.2,-0.7)]

sv_gap = [(269.3,-31.01,-0.4),(247.4,-31.21,-2.3),(263,-31.12,-2),(255.6,-31.1,-1.6),(277.5,-31.2,-0.85),(281.7,-31.12,-2.1),(287.3,-31.25,-0.7),(266.2,-31.37,-2.5),(259.4,-31.29,-1.5),(241.2,-31.3,-1.2),(246.5,-31.39,-1.1),(255.8,-31.45,-2.1),(272.8,-31.13,-1.3),(279,-31.38,-1.9),(289.7,-31.41,-2.2),
 (261.4,-31.52,-1.5),(266.6,-31.61,-1),(274.9,-31.56,-0.55),(281,-31.54,-2.1),(286.6,-31.56,-1.4),(245.9,-31.64,-2.1),(260.4,-31.68,-1.4),(252.8,-31.8,-1.5),(243.9,-31.8,-2.6),(239.7,-31.89,-1.1),(245.3,-31.91,-2.1),(256.3,-32,-2.4),(261.4,-31.81,-1.3),(267.6,-31.97,-0.8),(271.8,-31.9,-0.7),(281,-31.87,-1.3),
 (286.8,-31.8,-2),(251.5,-32,-0.5),(241.8,-32.13,-1.7),(258.7,-32.09,-2.3),(278.6,-32.08,-2.05),(287.9,-32.07,-2.5),(244.9,-32.26,-2.6),(251.5,-32.18,-1.7),(261.8,-32.22,-1.6),(271.2,-32.2,-1.7),(275.5,-32.27,-1.15),(281,-32.22,-2.2),(262,-32.38,-0.15),(269.3,-32.34,-2.7),(250,-32.41,-1.3),(287.3,-32.43,-1.5),
 (243.9,-32.47,-1.7),(256.3,-32.55,-2.2),(265.2,-32.5,-1.6),(270.7,-32.49,-2.2),(278,-32.51,-0.55),(248,-32.63,-2.6),(267.6,-32.62,-1.45),(279,-32.65,-1.7),(286.6,-32.62,-2),(254.8,-32.76,-1.6),(245.3,-32.82,-1.65),(278,-32.84,-2.1),(269.7,-32.86,-2.2),(239.7,-32.88,-1.5),(254.2,-32.93,-2.3),(263.5,-32.94,-1.9),
 (248.4,-33.49,-2.1),(258.7,-33.49,-2.6),(254.1,-33.35,-2.2),(265,-33.39,-1.7),(279.2,-33.73,-2.8),(283.8,-33.55,-1.5),(270,-33.94,-2.6),(276.5,-33.9,-2.3),(280.4,-33.97,-1.9),(283.8,-33.83,-1.7),(259.8,-33.73,-0.7),(268.3,-33.67,-0.85),(273.5,-33.7,-1.3),(286.1,-34.02,-1.9),(297,-34.05,-1.6),(288,-34.15,-2),
 (294,-34.26,-1.2),(269,-34.17,-2.2),(261,-34.05,-2.3),(256.4,-33.94,-1.3),(253,-33.81,-1.8),(248.4,-34.18,-2.6),(254.1,-34.09,-1.4),(264.8,-34.32,-1.1),(279.8,-34.32,-1.8),(241.6,-34,-2.2),(237,-34.03,-0.25),(235.3,-34.14,-0.75),(238.7,-34.21,-1.5),(230,-34.56,-1.5),(230.1,-34.69,-1.65),(240.9,-33.73,-2.1),
 (265.5,-33.11,-2.1),(273.5,-32.95,-0.6),(279.2,-33.22,-1.1),(287.2,-33.28,-0.65),(292.9,-33.13,-2.2),(274.7,-33.19,-2.1),(287.2,-33.13,-2),(293,-32.92,-1.5),(258.7,-33.05,-1.9),(245,-32.95,-2.4),(240.4,-33.05,-2.2),(254,-33.05,-1.7),(246.6,-33.26,-2.5),
 (286,-34.82,-1.7),(286.1,-34.57,-2.5),(281.7,-34.63,-2),(277,-34.75,-2.2),(270.8,-34.76,-2.2),(264.8,-34.64,-0.8),(262.6,-34.76,-1.6),(263.7,-34.88,-1.5),(250.5,-34.78,-2),(254.8,-34.92,-0.5),(271,-34.88,-1.2),(277,-34.9,-1.2),(267.6,-35,-1.6),(283,-35,-2.3),(277.5,-35.09,-1.5),(253.6,-34.46,-2.2),(239,-34.5,-2.3),
 (235,-34.8,-1.2),(228.5,-34.94,-2.2),(223.5,-34.7,-2.2),(225,-35.06,-2.2),(222.6,-35.16,-2),(236.8,-35.14,-1.7),(245,-35.16,-1.3),(242,-35.2,-1.5),(254.6,-35.32,-1.5),(258.7,-35.34,-1.7),(264.4,-35.3,-2.6),(245.4,-35.43,-1.35),(226,-35.38,-2),(229.7,-35.3,-1.6),(231.7,-35.42,-1.5),(231.3,-35.53,-1.3),(210,-35.53,-0.7),
 (250,-35.7,-2.4),(257.8,-35.68,-2.7),(230.6,-35.74,-2.1),(235.8,-35.81,-1.3),(265.5,-35.8,-2),(269.4,-35.89,-1.6),(275,-35.85,-1.2),(278.3,-35.56,-0.45),(281,-35.39,-2.1),(263,-35.98,-2.6),(234.7,-35.93,-1.2),(206,-35.15,-0.3)]

sv_right_low = [(479.7,-33.37,-1.5),(457.3,-33.44,-0.45),(440,-33.68,-1.45),(408,-33.8,-0.6),(426.7,-33.92,-0.75),(465,-33.93,-0.55),(472.6,-33.82,-0.5),(475.4,-34,-1.5),(434,-34.14,-0.35),(432.9,-34.32,-0.35),(429,-34.47,-0.55),(429,-34.58,-1.15),(491.6,-34.78,-1.35),(456.6,-34.91,-1.55),(413.5,-34.98,-0.75),
 (426.7,-35.17,-1.7),(443.6,-35.11,-1.5),(446,-35.23,-0.8),(451.8,-35.5,-3),(479.5,-35.52,-1.4),(420,-35.46,-0.8),(440.4,-35.61,-0.65),(408,-35.76,-0.65),(388.8,-35.5,-1.3),(373.5,-35.76,-2),(370.5,-35.67,-0.7),(353.4,-35.82,-1.05),(403.9,-34.8,-0.95),(402,-34.72,-1.5),(392.9,-34.69,-1.9),(392.7,-34.77,-1.4),
 (383.3,-34.69,-1.5),(375,-34.67,-2),(366,-34.84,-0.25),(370.2,-34.47,-1.15),(368.9,-34.32,-1.65),(392.8,-34.15,-0.65),(380.8,-34.03,-0.8),(379.9,-34.1,-1.35),(396,-33.9,-1.5),(386,-33.78,-1.3),(383,-33.89,-1.2),(371.8,-33.8,-1.45),(365.5,-33.85,-0.85),(363,-33.97,-1.25),(361.8,-33.68,-0.6),(353,-33.68,-1.15),
 (351.8,-33.87,-0.85),(354.8,-34.11,-1.4),(348,-34.05,-1.4),(344.3,-33.97,-0.6),(344.5,-34.16,-2.6),(340,-34.38,-0.75),(355,-34.47,-2.2),(350,-34.72,-1.4),(325.3,-34.68,-1.25),(349.5,-34.98,-1.75),(349,-35.04,-0.3),(348.4,-35.19,-1.8),(357,-35.21,-1.25),(334.7,-35.38,-1.45),(343.4,-35.4,-1.7),(341.3,-35.55,-1.7),
 (313,-35.1,-1.4),(306,-35,-0.6),(303.2,-34.79,-0.8),(298.6,-34.69,-1.3),(307.8,-35.23,-1.7),(299,-35.23,-1.45),(294.7,-35.47,-1.35),(294.3,-35.75,-1.5),(316.4,-35.82,-0.4),(316.9,-35.73,-2.3),(297.5,-35.9,-2.3),(301,-35.93,-0.7),(314.6,-34.46,-1.1),(301,-34.44,-2.2),(305.5,-34.53,-2.7),(300.7,-34.35,-1.6),
 (310,-34.35,-0.7),(314,-34.18,-0.8),(323.7,-34.12,-1.4),(324.4,-33.97,-1.25),(336,-33.94,-1.6),(330.8,-33.88,-2.3),(311,-33.89,-2.3),(324.4,-33.73,-2.2),(330,-33.66,-1.2),(317.6,-33.73,-1.5),(309.4,-33.74,-1.1),(304.3,-33.65,-0.7),(296,-33.52,-2.1),(300,-33.43,-1.4),(306,-33.4,-0.9),(310,-33.35,-0.55),
 (314,-33.55,-1.3),(321,-33.38,-0.85),(317,-33.27,-0.8),(302,-33.26,-0.8),(320.5,-33.2,-1.4),(326.7,-33.12,-2.2),(321.5,-33,-1.5),(336,-33.16,-1.3),(331,-33.32,-1.5),(338,-33.31,-0.5),(346,-33.39,-0.65),(346,-33.24,-0.6),(342,-33.24,-1.3),(351.8,-33.08,-1.4),(357.5,-33.1,-1.4),(360.5,-33.04,-1.2),(355,-33.47,-2.7),
 (359.7,-33.39,-1.1),(362.4,-33.28,-1.4),(364.7,-33.38,-2.2),(367.3,-33.43,-2.1),(376,-33.01,-1.3),(378.3,-33.16,-1.4),(383.4,-33.05,-1.6),(391.8,-33.14,-0.7),(400.3,-33.03,-1.2),(400.5,-33.17,-0.9),(399.5,-33.23,-0.6),(393,-33.45,-1.9),(392.7,-33.58,-1.5),(385,-33.42,-0.5),(410.5,-33.25,-0.75),(411.6,-33.04,-0.6),
 (412,-32.96,-0.4),(426,-32.9,-0.6),(443.6,-33.07,-1.5),(441,-32.92,-1.7)]

sv_right_up = [(301.8,-28.62,-2.5),(301.2,-28.76,-2.8),(297.8,-28.89,-1.9),(294.5,-29.02,-2),(299,-29.02,-2.1),(300.5,-29.16,-2.1),(295,-29.34,-2.2),(301,-29.34,-2.8),(310,-29.06,-2),(313.9,-29.01,-2),(312.6,-29.18,-2.2),(322.2,-29.18,-2.2),(326.3,-29.18,-2.4),(318,-29.29,-1.7),(323.6,-29.35,-2),(316.8,-29.45,-1.9),
 (328.4,-29.57,-1.5),(343.2,-29.1,-2.2),(346.5,-29.18,-1.5),(338.8,-29.4,-1.65),(346.5,-29.36,-1.65),(350.2,-29.47,-1.6),(357.9,-29.44,-1.65),(370.6,-29.11,-1.9),(377.5,-29.2,-2.2),(403.9,-29.26,-1.5),(371.9,-29.49,-2.2),(368.5,-29.65,-1.3),(365.2,-29.73,-1.3),(366.7,-29.82,-1.4),(358.3,-29.76,-2.2),(355.8,-29.78,-1.4),
 (352.3,-29.91,-1.5),(345.5,-29.99,-1.4),(391.6,-29.68,-1.65),(395.6,-29.84,-1.4),(377.7,-29.77,-1.65),(427.4,-29.76,-1.5),(339.6,-29.73,-1.5),(334,-29.81,-1.4),(312.2,-29.81,-1.45),(318.6,-29.86,-1.7),(323.6,-29.91,-1.8),(329.2,-29.87,-1.7),(337.6,-29.92,-2.3),(330,-30,-1.6),(299.7,-29.78,-2),(304.3,-29.92,-1.5),(296.4,-29.97,-1.7),
 (312.2,-30.01,-2.4),(318.8,-30.11,-1.7),(355,-30.07,-1.4),(351.9,-30.19,-1.4),(345,-30.24,-1.1),(334.6,-30.26,-1.4),(326.1,-30.19,-1.4),(370.4,-30.2,-1.45),(386.2,-30.06,-1.05),(387.4,-30.14,-1.3),(392.9,-30.29,-1.2),(391.6,-30.41,-0.85),(421.1,-30.19,-1.3),(430.7,-30.11,-1.1),(488.9,-30.44,-0.95),(476.8,-30.63,-0.85),(451.9,-30.6,-0.7),
 (451.7,-30.78,-0.7),(446.3,-30.83,-0.6),(472,-30.82,-1.15),(455.2,-31.05,-0.9),(474.6,-31.03,-1.35),(426.3,-30.6,-1.3),(417.8,-30.7,-0.75),(412.2,-30.55,-0.65),(407,-30.47,-2),(424,-30.78,-1.4),(418.4,-30.86,-0.75),(408.9,-30.87,-0.55),(423.6,-30.96,-1.3),(417.2,-31.06,-0.65),(395,-30.71,-0.5),(398.5,-30.98,-0.4),(389.1,-30.9,-0.35),
 (385.4,-30.84,-1.9),(387,-30.78,-1.4),(381.4,-31.01,-0.85),(376,-31,-0.15),(379.3,-30.88,-1.2),(371.4,-30.89,-0.4),(367.3,-30.9,-1.9),(377,-30.68,-0.95),(380.8,-30.53,-0.6),(381.8,-30.61,-0.9),(362,-30.54,-2.1),(366.2,-30.5,-0.9),(361,-30.39,-1.3),(353.1,-30.42,-1),(346.5,-30.49,-1.2),(340.3,-30.42,-1.9),(333.8,-30.54,-2),(326.7,-30.51,-1.6),
 (317.8,-30.48,-2),(312.2,-30.47,-1.9),(323.6,-30.42,-0.85),(335,-30.42,-0.7),(329.2,-30.36,-1.8),(299,-30.42,-0.3),(303.9,-30.44,-2.2),(294.7,-30.49,-1.3),(307,-30.15,-2.2),(309,-30.26,-1.4),(300.1,-30.2,-1.7),(293.5,-30.18,-1.5),(308.7,-30.57,-1.7),(312.6,-30.65,-0.6),(302.4,-30.66,-0.5),(294.5,-30.7,-0.6),(316.8,-30.74,-1.9),(325.7,-30.7,-2.2),
 (342.3,-30.7,-1.45),(345.9,-30.69,-0.3),(350,-30.63,-0.2),(357.9,-30.78,-1.5),(351.3,-30.86,-1.45),(343.8,-30.92,-1.4),(320.5,-30.87,-1.5),(311.6,-30.89,-1.3),(304.9,-30.97,-0.8),(294.5,-30.95,-1.5),(324.7,-31.01,-1.3),(316.6,-31.05,-0.25),(300.3,-31.09,-1.9),(344.4,-31.12,-2.35),(340.9,-31.08,-0.8),(331.9,-31.17,-2.1),(340,-31.22,-2.1),(325.7,-31.17,-1),
 (362.1,-31.12,-1.9),(373.5,-31.12,-1.3),(376.6,-31.14,-1.45),(397.6,-31.21,-1.25),(404.7,-31.17,-1.9),(441.1,-31.28,-0.95),(426.7,-31.27,-0.35),(424.5,-31.3,-1.4),(419.3,-31.4,-1.1),(399.7,-31.38,-1.6),(397.4,-31.44,-0.25),(383.5,-31.45,-1.2),(375.2,-31.34,-0.5),(370.4,-31.3,-0.6),(368.3,-31.41,-1.1),(359.4,-31.26,-0.65),(355.2,-31.35,-0.8),(350,-31.16,-1.5),
 (338.2,-31.36,-0.6),(329.9,-31.52,-1.4),(326.3,-31.39,-1.4),(316.8,-31.45,-0.9),(309.1,-31.3,-1.4),(301.4,-31.26,-2.35),(295.6,-31.26,-0.6),(296.6,-31.47,-0.85),(303,-31.47,-1.6),(323.6,-31.55,-0.7),(299.3,-31.6,-1.2),(304.7,-31.55,-0.35),(314.3,-31.57,-1.5),(342.8,-31.56,-1.3),(349.6,-31.54,-0.6),(346.5,-31.43,-0.6),(361,-31.54,-1.9),(357.1,-31.6,-1.3),
 (367.9,-31.64,-1.15),(375,-31.58,-1.4),(375,-31.72,-1.4),(385.2,-31.61,-1.7),(386.4,-31.73,-2.2),(394.3,-31.65,-2),(403,-31.58,-0.7),(406.8,-31.63,-0.5),(398.3,-31.73,-0.75),(405.5,-31.79,-1.2),(433.8,-31.48,-1.05),(429.6,-31.6,-0.5),(436.1,-31.7,-0.6),(430.7,-31.77,-0.4),(450.2,-31.77,-1.15),(457.7,-31.55,-0.5),(486.4,-31.56,-0.55),(492,-31.44,-0.85),(442.5,-31.87,-1.2),
 (448.4,-31.98,-1.35),(440,-32.05,-0.7),(472.9,-31.86,-0.7),(476.6,-31.94,-0.85),(469.8,-32.01,-0.5),(485.4,-31.98,-0.95),(492,-32.06,-0.75),(468.5,-32.21,-0.8),(492.9,-32.34,-0.7),(451.3,-32.3,-1.25),(457.5,-32.49,-0.55),(471.6,-32.56,-1.2),(444,-32.6,-0.85),(436.1,-32.45,-1.65),(426.5,-32.54,-1.2),(417.8,-32.49,-0.9),(413.4,-32.05,-1.65),(404.3,-32.12,-1.25),
 (391.2,-32.07,-1),(384.3,-31.91,-2.4),(378.7,-31.89,-1.5),(366.7,-31.91,-1.25),(377.5,-32.22,-0.8),(362.3,-32.08,-1.8),(359.6,-31.82,-1.7),(354.4,-31.76,-1.4),(349.2,-31.75,-1.1),(335.5,-31.76,-1.5),(334.4,-31.97,-1.25),(326.3,-31.94,-0.2),(321.1,-31.76,-0.35),(318.4,-31.98,-0.5),(309.1,-31.83,-0.7),(302.8,-31.84,-2.2),(293.9,-31.92,-2.1),(303.5,-31.99,-1.4),
 (293.1,-32.07,-1.9),(308,-32.08,-0.6),(316.8,-32.12,-0.3),(299.7,-32.19,-1.5),(327.4,-32.14,-1.25),(334,-32.15,-1.05),(337.1,-32.23,-2),(347.9,-32.17,-0.2),(357.5,-32.23,-1.6),(365.6,-32.34,-1.05),(355.4,-32.37,-0.6),(345,-32.36,-2.8),(330.3,-32.34,-1.1),(321.5,-32.23,-0.4),(314.9,-32.28,-1.5),(341.3,-32.46,-0.75),(335,-32.44,-2),(318,-32.4,-1.2),(311.6,-32.41,-1.3),
 (305.5,-32.43,-0.85),(298.3,-32.43,-2.3),(361.7,-32.52,-0.7),(370.8,-32.48,-1.7),(376.6,-32.5,-1.55),(388.1,-32.42,-0.85),(388.5,-32.59,-1.15),(399.1,-32.65,-1.15),(406.4,-32.57,-1.2),(339.2,-32.6,-1.15),(356.1,-32.62,-1.6),(319.5,-32.63,-2.5),(310.1,-32.59,-1.5),(304.9,-32.64,-1.9),(324.7,-32.68,-0.7),(312.2,-32.73,-1.6),(317.8,-32.79,-1.65),(301.2,-32.81,-0.8),
 (337.1,-32.74,-1.4),(346.9,-32.73,-0.7),(362.7,-32.77,-1),(352.7,-32.82,-1.6),(370.4,-32.86,-1.4),(412,-32.84,-1.65),(427.4,-32.85,-0.7),(442.1,-32.86,-1.6)]

x_ticks = [0, 100, 200, 300, 400, 500]
mass_ticks = [0, 100, 200, 300, 400, 500, 600, 700]
decades = [-26, -27, -28, -29, -30, -31, -32, -33, -34, -35, -36]
cbar_ticks = [-3.0, -2.5, -2.0, -1.5, -1.0, -0.5, 0.0, 0.5, 1.0]

W, H = 1196, 1646
FS = 23.5
MARKER = 54


def add_axes(x0, y0, x1, y1):
    return fig.add_axes([x0 / W, 1 - y1 / H, (x1 - x0) / W, (y1 - y0) / H])


def style_axis(ax):
    for sp in ax.spines.values():
        sp.set_linewidth(1.6)
    ax.tick_params(which="both", direction="in", top=True, right=True, width=1.0)
    ax.tick_params(which="major", length=7, labelsize=FS, pad=7)
    ax.tick_params(which="minor", length=3.6)


fig = plt.figure(figsize=(W / 100, H / 100), dpi=100)
ax1 = add_axes(150, 126, 956.5, 747.5)
ax2 = add_axes(150, 872.5, 956.5, 1493)

top = np.array(band + diagonal + scattered)
sc = ax1.scatter(top[:, 0], top[:, 1], c=top[:, 2], s=MARKER, cmap="gist_ncar", vmin=-3, vmax=1,
                 edgecolors="k", linewidths=1.5)
ax1.set_xlim(0, 500)
ax1.set_ylim(0, 700)
ax1.set_xticks(x_ticks)
ax1.set_yticks(mass_ticks)
ax1.xaxis.set_minor_locator(MultipleLocator(20))
ax1.yaxis.set_minor_locator(MultipleLocator(20))
ax1.tick_params(labelbottom=False)
style_axis(ax1)
ax1.set_ylabel(r"$m_{\tilde{\chi}_0^1}$  [GeV]", fontsize=25)
ax1.yaxis.set_label_coords(-0.118, 0.5)

bottom = np.array(sv_fill + sv_under + sv_cluster + sv_upper_left + sv_left_mid + sv_left_low + sv_upper_mid + sv_gap
                  + sv_right_low + sv_right_up)
ax2.scatter(bottom[:, 0], 10.0 ** bottom[:, 1], c=bottom[:, 2], s=MARKER, cmap="gist_ncar", vmin=-3, vmax=1,
            edgecolors="k", linewidths=1.5)
ax2.set_yscale("log")
ax2.set_xlim(0, 500)
ax2.set_ylim(1e-36, 1e-26)
ax2.set_xticks(x_ticks)
ax2.xaxis.set_minor_locator(MultipleLocator(20))
ax2.yaxis.set_major_locator(LogLocator(base=10, numticks=15))
ax2.yaxis.set_minor_locator(LogLocator(base=10, subs=np.arange(2, 10) * 0.1, numticks=15))
ax2.yaxis.set_minor_formatter(NullFormatter())
style_axis(ax2)
ax2.tick_params(labelleft=False)
for d in decades:
    ax2.annotate("10", xy=(0, 10.0 ** d), xycoords=("axes fraction", "data"), xytext=(-35, -3.6),
                 textcoords="offset points", ha="right", va="center", fontsize=FS)
    ax2.annotate(str(d), xy=(0, 10.0 ** d), xycoords=("axes fraction", "data"), xytext=(-33.5, 7),
                 textcoords="offset points", ha="left", va="center", fontsize=15.5)
ax2.set_xlabel(r"$m_{\tilde{\nu}_{\tau_1}}$  [GeV]", fontsize=24)
ax2.xaxis.set_label_coords(0.5, -0.07)
ax2.set_ylabel(r"$<\sigma v>$ [cm$^3$  s$^{-1}$ ]", fontsize=25)
ax2.yaxis.set_label_coords(-0.134, 0.5)

cax = add_axes(993, 212, 1029, 1407.5)
cb = fig.colorbar(sc, cax=cax)
cb.set_ticks(cbar_ticks)
cb.ax.yaxis.set_minor_locator(MultipleLocator(0.1))
cb.outline.set_linewidth(1.6)
cb.ax.tick_params(which="major", direction="in", length=6.5, width=1.0, labelsize=20, pad=4)
cb.ax.tick_params(which="minor", direction="in", length=3.5, width=1.0)
cb.set_label(r"log$_{10}$(dN/dE$_{\nu_{\mathrm{line}}}$ ) [GeV$^{-1}$ ]", fontsize=25, rotation=90)
cb.ax.yaxis.set_label_coords(3.47, 0.5)

fig.savefig("out.png", dpi=100)
